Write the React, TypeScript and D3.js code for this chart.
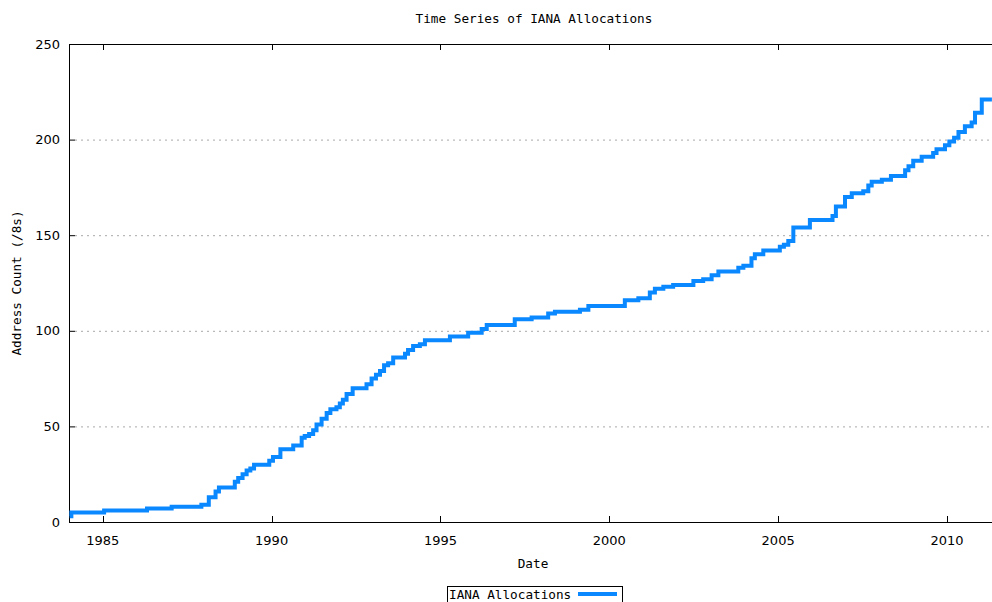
import React from "react";
import * as d3 from "d3";

const years: number[] = [
  1984.02, 1984.07, 1985.04, 1986.31, 1987.04, 1987.92, 1988.14, 1988.34, 1988.44,
  1988.91, 1989.01, 1989.14, 1989.26, 1989.37, 1989.48, 1989.93, 1990.04, 1990.26,
  1990.64, 1990.89, 1990.98, 1991.11, 1991.23, 1991.33, 1991.48, 1991.63, 1991.74,
  1991.92, 1992.02, 1992.11, 1992.22, 1992.4, 1992.81, 1992.96, 1993.09, 1993.21,
  1993.33, 1993.45, 1993.6, 1993.95, 1994.04, 1994.19, 1994.39, 1994.54, 1995.28,
  1995.82, 1996.22, 1996.37, 1997.2, 1997.7, 1998.19, 1998.39, 1999.13, 1999.38,
  2000.46, 2000.86, 2001.2, 2001.35, 2001.6, 2001.89, 2002.49, 2002.78, 2003.03,
  2003.23, 2003.82, 2003.97, 2004.21, 2004.31, 2004.56, 2005.05, 2005.17, 2005.3,
  2005.45, 2005.94, 2006.61, 2006.71, 2006.98, 2007.18, 2007.52, 2007.67, 2007.77,
  2008.07, 2008.34, 2008.76, 2008.86, 2009.0, 2009.25, 2009.59, 2009.69, 2009.94,
  2010.07, 2010.21, 2010.34, 2010.53, 2010.73, 2010.83, 2011.03, 2011.33,
];

const counts: number[] = [
  3, 5, 6, 7, 8, 9, 13, 16, 18,
  21, 23, 25, 27, 28, 30, 32, 34, 38,
  40, 44, 45, 46, 48, 51, 54, 57, 59,
  60, 62, 64, 67, 70, 72, 75, 77, 79,
  82, 83, 86, 88, 90, 92, 93, 95, 97,
  99, 101, 103, 106, 107, 109, 110, 111, 113,
  116, 117, 120, 122, 123, 124, 126, 127, 129,
  131, 133, 134, 138, 140, 142, 144, 145, 147,
  154, 158, 160, 165, 170, 172, 173, 176, 178,
  179, 181, 184, 186, 189, 191, 193, 195, 197,
  199, 201, 204, 207, 209, 214, 221, 221,
];

const xTicks: number[] = [1985, 1990, 1995, 2000, 2005, 2010];
const yTicks: number[] = [0, 50, 100, 150, 200, 250];
const gridValues: number[] = [50, 100, 150, 200];

const title = "Time Series of IANA Allocations";
const xLabel = "Date";
const yLabel = "Address Count (/8s)";
const seriesName = "IANA Allocations";

export default function App() {
  const W = 992;
  const H = 602;
  const left = 69;
  const right = 999;
  const top = 44;
  const bottom = 522;

  const x = d3.scaleLinear().domain([1984, 2011.54]).range([left, right]);
  const y = d3.scaleLinear().domain([0, 250]).range([bottom, top]);

  const pts: [number, number][] = years.map((yr, i) => [yr, counts[i]]);
  const line = d3
    .line<[number, number]>()
    .x((d) => x(d[0]))
    .y((d) => y(d[1]))
    .curve(d3.curveStepAfter);

  const mono = "'DejaVu Sans Mono', monospace";
  const sans = "'DejaVu Sans', sans-serif";
  const blue = "#0a88ff";

  return (
    <div style={{ position: "absolute", left: 0, top: 0 }}>
      <svg width={W} height={H} style={{ display: "block", background: "#fff" }}>
        <rect x={0} y={0} width={W} height={H} fill="#fff" />
        {/* grid */}
        {gridValues.map((v) => (
          <line
            key={"g" + v}
            x1={left + 6}
            x2={right}
            y1={y(v) + 0.5}
            y2={y(v) + 0.5}
            stroke="#a8a8a8"
            strokeWidth={1}
            strokeDasharray="2,4"
          />
        ))}
        {/* border */}
        <line x1={left + 0.5} x2={left + 0.5} y1={top} y2={bottom + 0.5} stroke="#000" strokeWidth={1} />
        <line x1={left} x2={right} y1={bottom + 0.5} y2={bottom + 0.5} stroke="#000" strokeWidth={1} />
        <line x1={left} x2={right} y1={top + 0.5} y2={top + 0.5} stroke="#000" strokeWidth={1} />
        <line x1={right - 0.5} x2={right - 0.5} y1={top} y2={bottom} stroke="#000" strokeWidth={1} />
        {/* y ticks */}
        {yTicks.map((v) => (
          <g key={"yt" + v}>
            <line x1={left} x2={left + 6} y1={y(v) + 0.5} y2={y(v) + 0.5} stroke="#000" />
            <text
              x={left - 9}
              y={y(v)}
              dy="0.36em"
              textAnchor="end"
              fontFamily={sans}
              fontSize={13}
              fill="#000"
            >
              {v}
            </text>
          </g>
        ))}
        {/* x ticks */}
        {xTicks.map((v) => (
          <g key={"xt" + v}>
            <line x1={Math.round(x(v)) + 0.5} x2={Math.round(x(v)) + 0.5} y1={bottom} y2={bottom - 6} stroke="#000" />
            <line x1={Math.round(x(v)) + 0.5} x2={Math.round(x(v)) + 0.5} y1={top} y2={top + 6} stroke="#000" />
            <text
              x={x(v)}
              y={545}
              textAnchor="middle"
              fontFamily={sans}
              fontSize={13}
              fill="#000"
            >
              {v}
            </text>
          </g>
        ))}
        {/* series */}
        <path d={line(pts) || ""} fill="none" stroke={blue} strokeWidth={4} strokeLinejoin="miter" />
        {/* title */}
        <text x={534} y={23} textAnchor="middle" fontFamily={mono} fontSize={12.7} fill="#000">
          {title}
        </text>
        <text x={533} y={568} textAnchor="middle" fontFamily={mono} fontSize={12.7} fill="#000">
          {xLabel}
        </text>
        <text
          transform={`translate(21, ${(top + bottom) / 2}) rotate(-90)`}
          textAnchor="middle"
          fontFamily={mono}
          fontSize={12.7}
          fill="#000"
        >
          {yLabel}
        </text>
        {/* legend */}
        <rect x={447.5} y={586.5} width={175} height={20} fill="#fff" stroke="#000" strokeWidth={1} />
        <text x={449} y={599} fontFamily={mono} fontSize={12.7} fill="#000">
          {seriesName}
        </text>
        <line x1={578} x2={617} y1={594} y2={594} stroke={blue} strokeWidth={4} />
      </svg>
    </div>
  );
}
